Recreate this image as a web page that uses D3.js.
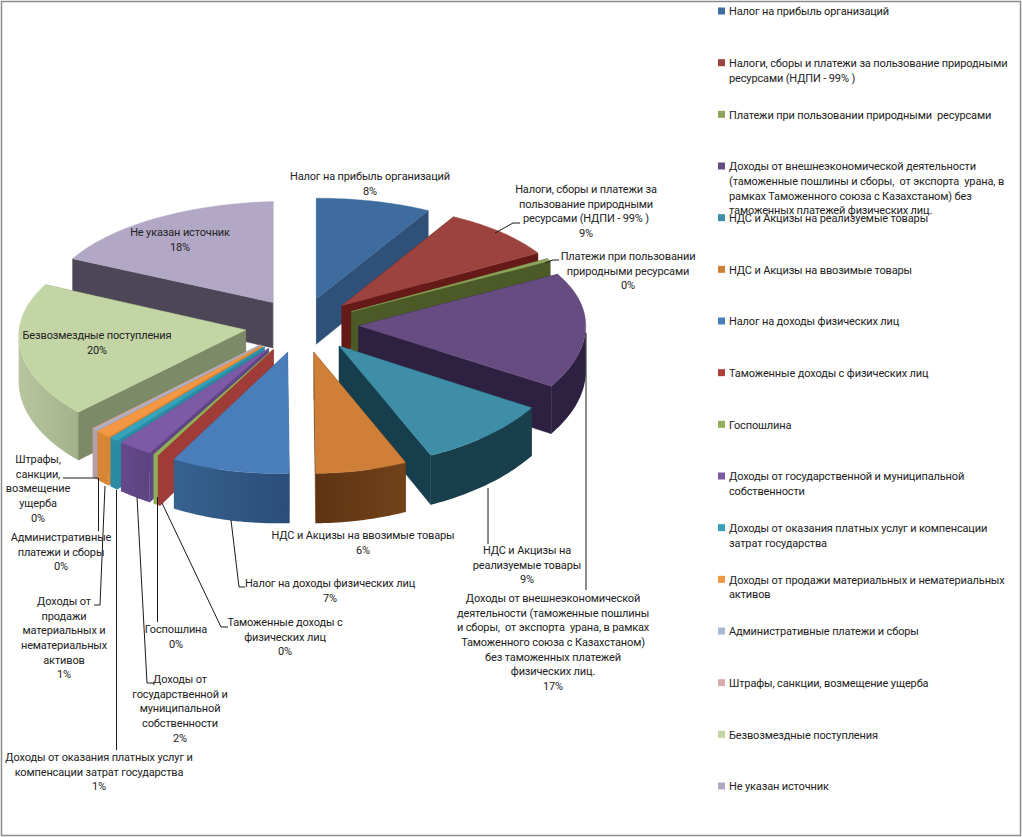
<!DOCTYPE html>
<html lang="ru">
<head>
<meta charset="UTF-8">
<title>Доходы</title>
<script src="https://d3js.org/d3.v7.min.js"></script>
<style>
    html,body{margin:0;padding:0;background:#fff;}
    svg{display:block;}
    text{font-family:"Roboto","Liberation Sans",sans-serif;font-size:11px;letter-spacing:-0.14px;fill:#222;white-space:pre;}
</style>
</head>
<body>
<svg id="chart" width="1022" height="837"></svg>
<script>
// shares of the pie as they are drawn in the picture (the 3D view bends them a little against the printed %)
const values=[8.2,8.4,0.4,16.9,9.49,6.49,8.45,0.15,0.3,2.47,0.58,1.08,0.15,0.15,19.6,17.2];

const legendLines=[
    ['Налог на прибыль организаций'],
    ['Налоги, сборы и платежи за пользование природными','ресурсами (НДПИ - 99% )'],
    ['Платежи при пользовании природными  ресурсами'],
    ['Доходы от внешнеэкономической деятельности','(таможенные пошлины и сборы,  от экспорта  урана, в','рамках Таможенного союза с Казахстаном) без','таможенных платежей физических лиц.'],
    ['НДС и Акцизы на реализуемые товары'],
    ['НДС и Акцизы на ввозимые товары'],
    ['Налог на доходы физических лиц'],
    ['Таможенные доходы с физических лиц'],
    ['Госпошлина'],
    ['Доходы от государственной и муниципальной','собственности'],
    ['Доходы от оказания платных услуг и компенсации','затрат государства'],
    ['Доходы от продажи материальных и нематериальных','активов'],
    ['Административные платежи и сборы'],
    ['Штрафы, санкции, возмещение ущерба'],
    ['Безвозмездные поступления'],
    ['Не указан источник']
];

const labelLines=[
    ['Налог на прибыль организаций','8%'],
    ['Налоги, сборы и платежи за','пользование природными','ресурсами (НДПИ - 99% )','9%'],
    ['Платежи при пользовании','природными ресурсами','0%'],
    ['Доходы от внешнеэкономической','деятельности (таможенные пошлины','и сборы,  от экспорта  урана, в рамках','Таможенного союза с Казахстаном)','без таможенных платежей','физических лиц.','17%'],
    ['НДС и Акцизы на','реализуемые товары','9%'],
    ['НДС и Акцизы на ввозимые товары','6%'],
    ['Налог на доходы физических лиц','7%'],
    ['Таможенные доходы с','физических лиц','0%'],
    ['Госпошлина','0%'],
    ['Доходы от','государственной и','муниципальной','собственности','2%'],
    ['Доходы от оказания платных услуг и','компенсации затрат государства','1%'],
    ['Доходы от','продажи','материальных и','нематериальных','активов','1%'],
    ['Административные','платежи и сборы','0%'],
    ['Штрафы,','санкции,','возмещение','ущерба','0%'],
    ['Безвозмездные поступления','20%'],
    ['Не указан источник','18%']
];

// colours per slice: top, cut faces, outer wall left/right
const topColors=['#3f6c9e','#9c4340','#8ea35a','#664c80','#3d8ea6','#d07f38','#4a7ebb','#a03c38','#8fae55','#7c5aa6','#37a2bc','#f39744','#a9b4cc','#d4a9a8','#c3d5a4','#b2a8c6'];
const faceColors=['#2f5078','#651a18','#4b5a26','#2e2040','#163e4c','#5e3412','#2f5580','#a03c38','#8fae55','#5f4585','#2b8ba3','#d98536','#a9a4b4','#c49a9a','#7d8a68','#4c4656'];
const wallA=['#2f5078','#651a18','#4b5a26','#2e2040','#1a3f4c','#5e3412','#36628f','#a03c38','#8fae55','#644a8a','#2b8ba3','#d98536','#a9a4b4','#c49a9a','#b7c69e','#4c4656'];
const wallB=['#2f5078','#651a18','#4b5a26','#2e2040','#1a3f4c','#72421a','#2b4d79','#a03c38','#8fae55','#5c4280','#2b8ba3','#d98536','#a9a4b4','#c49a9a','#a3b28a','#4c4656'];
const legendColors=['#3f6c9e','#9c4340','#8ea35a','#664c80','#3d8ea6','#d07f38','#4a7ebb','#b0403c','#8fae55','#7c5aa6','#37a2bc','#f39744','#a9b9d5','#d9aaaa','#c3d5a4','#b2a8c6'];

// where each data label sits: centre x and the y of its first line
const labelX=[370,586,628,553,527,363,330,285,176,180,99,64,61,38,97,180];
const labelY=[176,189,256,598,550,535,583,622,629,679,757,601,537,459,335,232];

// leader lines, placed by hand in the original as well
const leaders=[
    [[495,233],[513,223],[520,223]],
    [[545,263],[553,260],[559,260]],
    [[586,333],[586,590]],
    [[488,488],[488,544]],
    [[231,520],[239,587],[245,587]],
    [[162,503],[221,627],[228,627]],
    [[157.5,497],[157.5,622]],
    [[137,497],[147,683],[154,683]],
    [[116.5,490],[116.5,750]],
    [[105,486],[100,605],[94,605]],
    [[98.5,478],[98.5,531]],
    [[98,478],[63,478]]
];

const width=1022,height=837;
const cx=302,cy=325,rx=227,ry=110,persp=0.062,skew=6,explode=0.25,depth=46;
const lineH=14.7;

const svg=d3.select('#chart');
const defs=svg.append('defs');

svg.append('rect')
    .attr('x',1.5).attr('y',1.5)
    .attr('width',1019).attr('height',834)
    .attr('fill','#fff')
    .attr('stroke','#8c8c8c')
    .attr('stroke-width',1.5);

// ground plane to screen, things nearer the viewer come out a bit taller,
// the left side sits slightly lower than the right one
function project(wx,wy,down){
    const s=1/(1-persp*wy);
    return [cx+rx*wx,cy+ry*wy*s+down*depth*s+skew*Math.max(0,-wx)];
}

const line=d3.line();
const arcs=d3.pie().sort(null).value(d=>d)(values);

const slices=arcs.map((d,i)=>{
    const mid=(d.startAngle+d.endAngle)/2;
    const ox=explode*Math.sin(mid),oy=-explode*Math.cos(mid);
    const rim=(a,down)=>project(ox+Math.sin(a),oy-Math.cos(a),down);
    return {i,mid,ox,oy,rim,a0:d.startAngle,a1:d.endAngle,order:-Math.cos(mid)};
});

function arcPoints(s,a0,a1,down){
    const n=Math.max(2,Math.ceil((a1-a0)/0.02));
    return d3.range(n+1).map(k=>s.rim(a0+(a1-a0)*k/n,down));
}

// a cut face can be seen when the rest of the slice lies above its edge
function faceVisible(a,c,o){
    if(Math.abs(c[0]-a[0])<0.5) return false;
    const y=a[1]+(c[1]-a[1])*(o[0]-a[0])/(c[0]-a[0]);
    return o[1]<y;
}

const pie=svg.append('g');

slices.slice().sort((p,q)=>d3.ascending(p.order,q.order)).forEach(s=>{
    const g=pie.append('g');
    const A=project(s.ox,s.oy,0),A2=project(s.ox,s.oy,1);
    const C0=s.rim(s.a0,0),C1=s.rim(s.a1,0);

    const faces=[
        {vis:faceVisible(A,C0,C1),pts:[A,C0,s.rim(s.a0,1),A2]},
        {vis:faceVisible(A,C1,C0),pts:[A,C1,s.rim(s.a1,1),A2]}
    ];

    // hidden faces first, then the outer wall, then the ones in front
    const drawFace=f=>g.append('path')
        .attr('d',line(f.pts)+'Z')
        .attr('fill',faceColors[s.i])
        .attr('stroke',faceColors[s.i])
        .attr('stroke-width',0.4);
    faces.filter(f=>!f.vis).forEach(drawFace);

    const w0=Math.max(s.a0,Math.PI/2),w1=Math.min(s.a1,Math.PI*1.5);
    if(w1>w0){
        const top=arcPoints(s,w0,w1,0),bot=arcPoints(s,w0,w1,1).reverse();
        const gid='wall'+s.i;
        const grad=defs.append('linearGradient').attr('id',gid)
            .attr('gradientUnits','userSpaceOnUse')
            .attr('x1',d3.min(top,p=>p[0])).attr('x2',d3.max(top,p=>p[0]))
            .attr('y1',0).attr('y2',0);
        grad.append('stop').attr('offset',0).attr('stop-color',wallA[s.i]);
        grad.append('stop').attr('offset',1).attr('stop-color',wallB[s.i]);
        g.append('path')
            .attr('d',line(top.concat(bot))+'Z')
            .attr('fill',`url(#${gid})`);
    }
    faces.filter(f=>f.vis).forEach(drawFace);

    g.append('path')
        .attr('d',line([A].concat(arcPoints(s,s.a0,s.a1,0)))+'Z')
        .attr('fill',topColors[s.i])
        .attr('stroke',topColors[s.i])
        .attr('stroke-width',0.4);
});

// leaders
svg.append('g').selectAll('path')
    .data(leaders)
    .join('path')
    .attr('d',d=>line(d))
    .attr('fill','none')
    .attr('stroke','#1a1a1a')
    .attr('stroke-width',1);

// data labels
svg.append('g').selectAll('g')
    .data(labelLines)
    .join('g')
    .each(function(lines,i){
        d3.select(this).selectAll('text')
            .data(lines)
            .join('text')
            .attr('x',labelX[i])
            .attr('y',(t,k)=>labelY[i]+k*lineH)
            .attr('dy','0.35em')
            .attr('text-anchor','middle')
            .text(t=>t);
    });

// legend
const legendY=d3.scaleLinear().domain([0,15]).range([11,786]);
const legend=svg.append('g').selectAll('g')
    .data(legendLines)
    .join('g')
    .attr('transform',(d,i)=>`translate(718,${legendY(i)})`);
legend.append('rect')
    .attr('y',-3.5)
    .attr('width',7)
    .attr('height',7)
    .attr('fill',(d,i)=>legendColors[i]);
legend.each(function(lines){
    d3.select(this).selectAll('text')
        .data(lines)
        .join('text')
        .attr('x',11)
        .attr('y',(t,k)=>k*lineH+0.5)
        .attr('dy','0.35em')
        .text(t=>t);
});
</script>
</body>
</html>
